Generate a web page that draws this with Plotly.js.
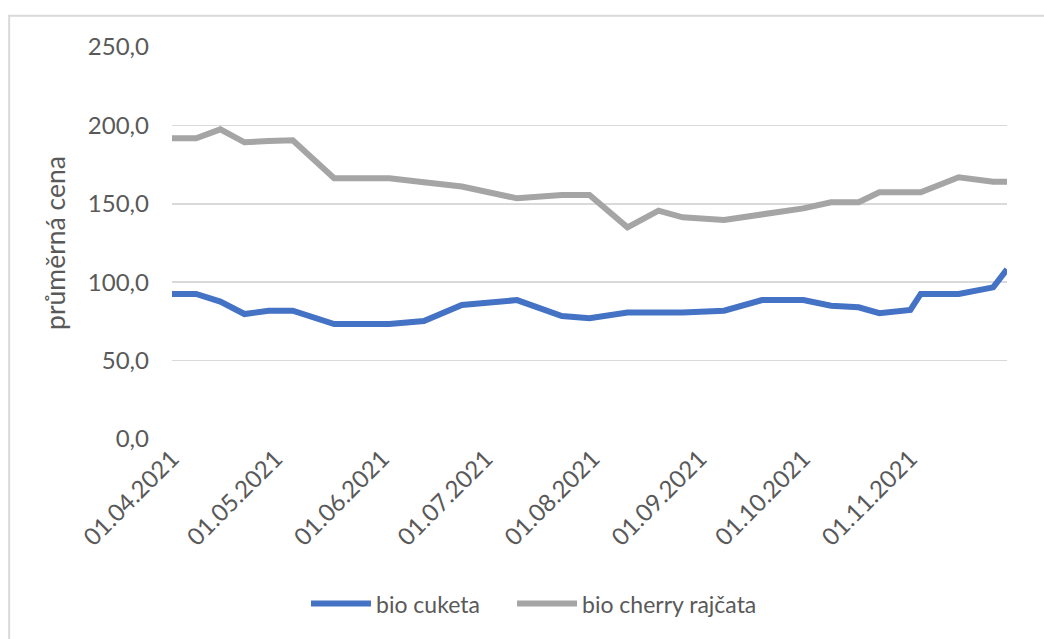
<!DOCTYPE html>
<html>
<head>
<meta charset="utf-8">
<script src="https://cdn.plot.ly/plotly-3.0.1.min.js"></script>
<style>html,body{margin:0;padding:0;background:#fff;}#chart{width:1044px;height:639px;}</style>
</head>
<body>
<div id="chart"></div>
<script>
var dates = ['2021-04-01','2021-04-08','2021-04-15','2021-04-22','2021-04-29','2021-05-06','2021-05-18','2021-06-03','2021-06-13','2021-06-24','2021-07-10','2021-07-23','2021-07-31','2021-08-11','2021-08-20','2021-08-27','2021-09-08','2021-09-19','2021-10-01','2021-10-09','2021-10-17','2021-10-23','2021-11-01','2021-11-04','2021-11-15','2021-11-25','2021-11-29'];
var cuketa = [92.5,92.5,87.6,79.7,81.8,81.8,73.3,73.3,75.3,85.5,88.6,78.4,77.0,80.6,80.6,80.6,81.8,88.6,88.6,85.0,84.0,80.2,82.3,92.5,92.5,96.7,108.2];
var rajcata = [191.8,191.8,197.5,189.2,190.0,190.5,166.3,166.3,163.8,161.0,153.5,155.6,155.6,135.0,145.6,141.4,139.7,143.0,147.1,151.0,151.0,157.3,157.3,157.3,166.9,164.1,164.1];
var tickDates = ['2021-04-01','2021-05-01','2021-06-01','2021-07-01','2021-08-01','2021-09-01','2021-10-01','2021-11-01'];
var tickLabels = ['01.04.2021','01.05.2021','01.06.2021','01.07.2021','01.08.2021','01.09.2021','01.10.2021','01.11.2021'];
var seriesNames = ['bio cuketa','bio cherry rajčata'];
var yTitle = 'průměrná cena';

var font = 'Lato, Carlito, Calibri, sans-serif';
var traces = [
  {x: dates, y: cuketa, name: seriesNames[0], type: 'scatter', mode: 'lines', legend: 'legend',
   line: {color: '#4472C4', width: 6}},
  {x: dates, y: rajcata, name: seriesNames[1], type: 'scatter', mode: 'lines', legend: 'legend2',
   line: {color: '#A5A5A5', width: 6}}
];
var legendFont = {family: font, size: 23, color: '#595959'};
var layout = {
  width: 1044, height: 639,
  margin: {l: 172, r: 37, t: 47, b: 200},
  paper_bgcolor: '#ffffff', plot_bgcolor: '#ffffff',
  separators: ', ',
  font: {family: font, size: 24, color: '#595959'},
  showlegend: true,
  legend: {orientation: 'h', x: 0.1605, xanchor: 'left', y: -0.42, yanchor: 'middle',
           font: legendFont, itemwidth: 60},
  legend2: {orientation: 'h', x: 0.4072, xanchor: 'left', y: -0.42, yanchor: 'middle',
           font: legendFont, itemwidth: 60},
  xaxis: {type: 'date', range: ['2021-04-01','2021-11-29'], tickvals: tickDates, ticktext: tickLabels,
          tickangle: -45, showgrid: false, zeroline: false, showline: false, ticks: '',
          tickfont: {family: font, size: 24, color: '#595959'}, fixedrange: true},
  yaxis: {range: [0, 250], dtick: 50, tick0: 0, tickformat: '.1f', showgrid: true,
          gridcolor: '#D9D9D9', gridwidth: 1.5, zeroline: false, showline: false, ticks: '',
          ticklabelstandoff: 22,
          tickfont: {family: font, size: 24, color: '#595959'},
          title: {text: yTitle, font: {family: font, size: 26.5, color: '#595959'}, standoff: 14}},
  shapes: [
    {type: 'rect', xref: 'paper', yref: 'paper', x0: -0.195, x1: 1.1, y0: -0.52, y1: 1.08,
     line: {color: '#D9D9D9', width: 2}, fillcolor: 'rgba(0,0,0,0)', layer: 'below'}
  ]
};
Plotly.newPlot('chart', traces, layout, {displayModeBar: false, staticPlot: true});
</script>
</body>
</html>
